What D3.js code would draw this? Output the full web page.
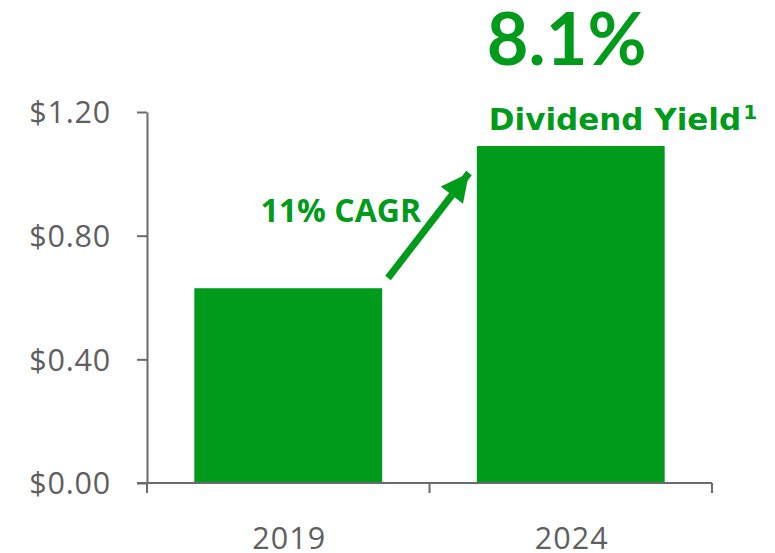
<!DOCTYPE html>
<html><head><meta charset="utf-8">
<script src="https://cdn.jsdelivr.net/npm/d3@7"></script>
<style>body{margin:0;background:#fff}svg{display:block}</style>
</head><body>
<svg id="c" width="775" height="553"></svg>
<script>
const categories = ["2019", "2024"];
const values = [0.63, 1.09];
const yTicks = [0, 0.4, 0.8, 1.2];
const yieldLabel = "8.1%";
const yieldSub = "Dividend Yield";
const cagrLabel = "11% CAGR";

const green = "#009b1a", gray = "#5f5f5f", axisC = "#6b6b6b";
const fontReg = "'Open Sans', Lato, sans-serif";
const svg = d3.select("#c");
const x0 = 147, x1 = 712, y0 = 483, y1 = 112;
const x = d3.scaleBand().domain(categories).range([x0, x1]).paddingInner(0.335).paddingOuter(0.1675);
const y = d3.scaleLinear().domain([0, 1.2]).range([y0, y1]);

// bars
svg.selectAll("rect.bar").data(categories).join("rect")
  .attr("x", d => x(d)).attr("width", x.bandwidth())
  .attr("y", (d, i) => y(values[i])).attr("height", (d, i) => y0 - y(values[i]))
  .attr("fill", green);

// y axis
const ya = svg.append("g").attr("transform", `translate(${x0},0)`)
  .call(d3.axisLeft(y).tickValues(yTicks).tickSize(10).tickSizeOuter(0).tickPadding(26).tickFormat(d => "$" + d3.format(".2f")(d)));
ya.select(".domain").attr("stroke", axisC).attr("stroke-width", 2);
ya.selectAll(".tick line").attr("stroke", axisC).attr("stroke-width", 2);
ya.selectAll(".tick text").attr("fill", gray).style("font-family", fontReg).style("font-size", "30.5px")
  .style("letter-spacing", "0.8px").attr("dy", "0.36em");

// x axis
const step = x.step();
const bounds = [x0, x0 + step, x1];
const xa = svg.append("g").attr("transform", `translate(0,${y0})`);
xa.append("line").attr("x1", x0 - 10).attr("x2", x1).attr("y1", 0).attr("y2", 0).attr("stroke", axisC).attr("stroke-width", 2);
xa.selectAll("line.t").data(bounds).join("line").attr("class", "t")
  .attr("x1", d => d).attr("x2", d => d).attr("y1", 0).attr("y2", 10).attr("stroke", axisC).attr("stroke-width", 2);
xa.selectAll("text").data(categories).join("text")
  .attr("x", d => x(d) + x.bandwidth() / 2 + 1).attr("y", 66).attr("text-anchor", "middle")
  .attr("fill", gray).style("font-family", fontReg).style("font-size", "30.5px").style("letter-spacing", "1px").text(d => d);

// annotations
const bx = x(categories[1]) + 10;
svg.append("text").attr("x", bx).attr("y", 65).attr("fill", green)
  .style("font-family", "Lato, sans-serif").style("font-weight", 700).style("font-size", "72px").text(yieldLabel);
const t2 = svg.append("text").attr("x", bx + 2).attr("y", 130).attr("fill", green)
  .style("font-family", "'DejaVu Sans', sans-serif").style("font-weight", 700).style("font-size", "31px").text(yieldSub);
t2.append("tspan").attr("dx", 2).attr("dy", -11).style("font-size", "20px").text("1");

svg.append("text").attr("x", 421).attr("y", 222).attr("text-anchor", "end").attr("fill", green)
  .style("font-family", "'Open Sans', sans-serif").style("font-weight", 700).style("font-size", "32px").text(cagrLabel);

// arrow
svg.append("defs").append("marker").attr("id", "ah").attr("viewBox", "0 0 10 10")
  .attr("refX", 10).attr("refY", 5).attr("markerUnits", "userSpaceOnUse").attr("markerWidth", 30).attr("markerHeight", 28)
  .attr("orient", "auto").append("path").attr("d", "M0,0 L10,5 L0,10 Z").attr("fill", green);
svg.append("line").attr("x1", 388).attr("y1", 278).attr("x2", 469).attr("y2", 173)
  .attr("stroke", green).attr("stroke-width", 7).attr("marker-end", "url(#ah)");
</script>
</body></html>
